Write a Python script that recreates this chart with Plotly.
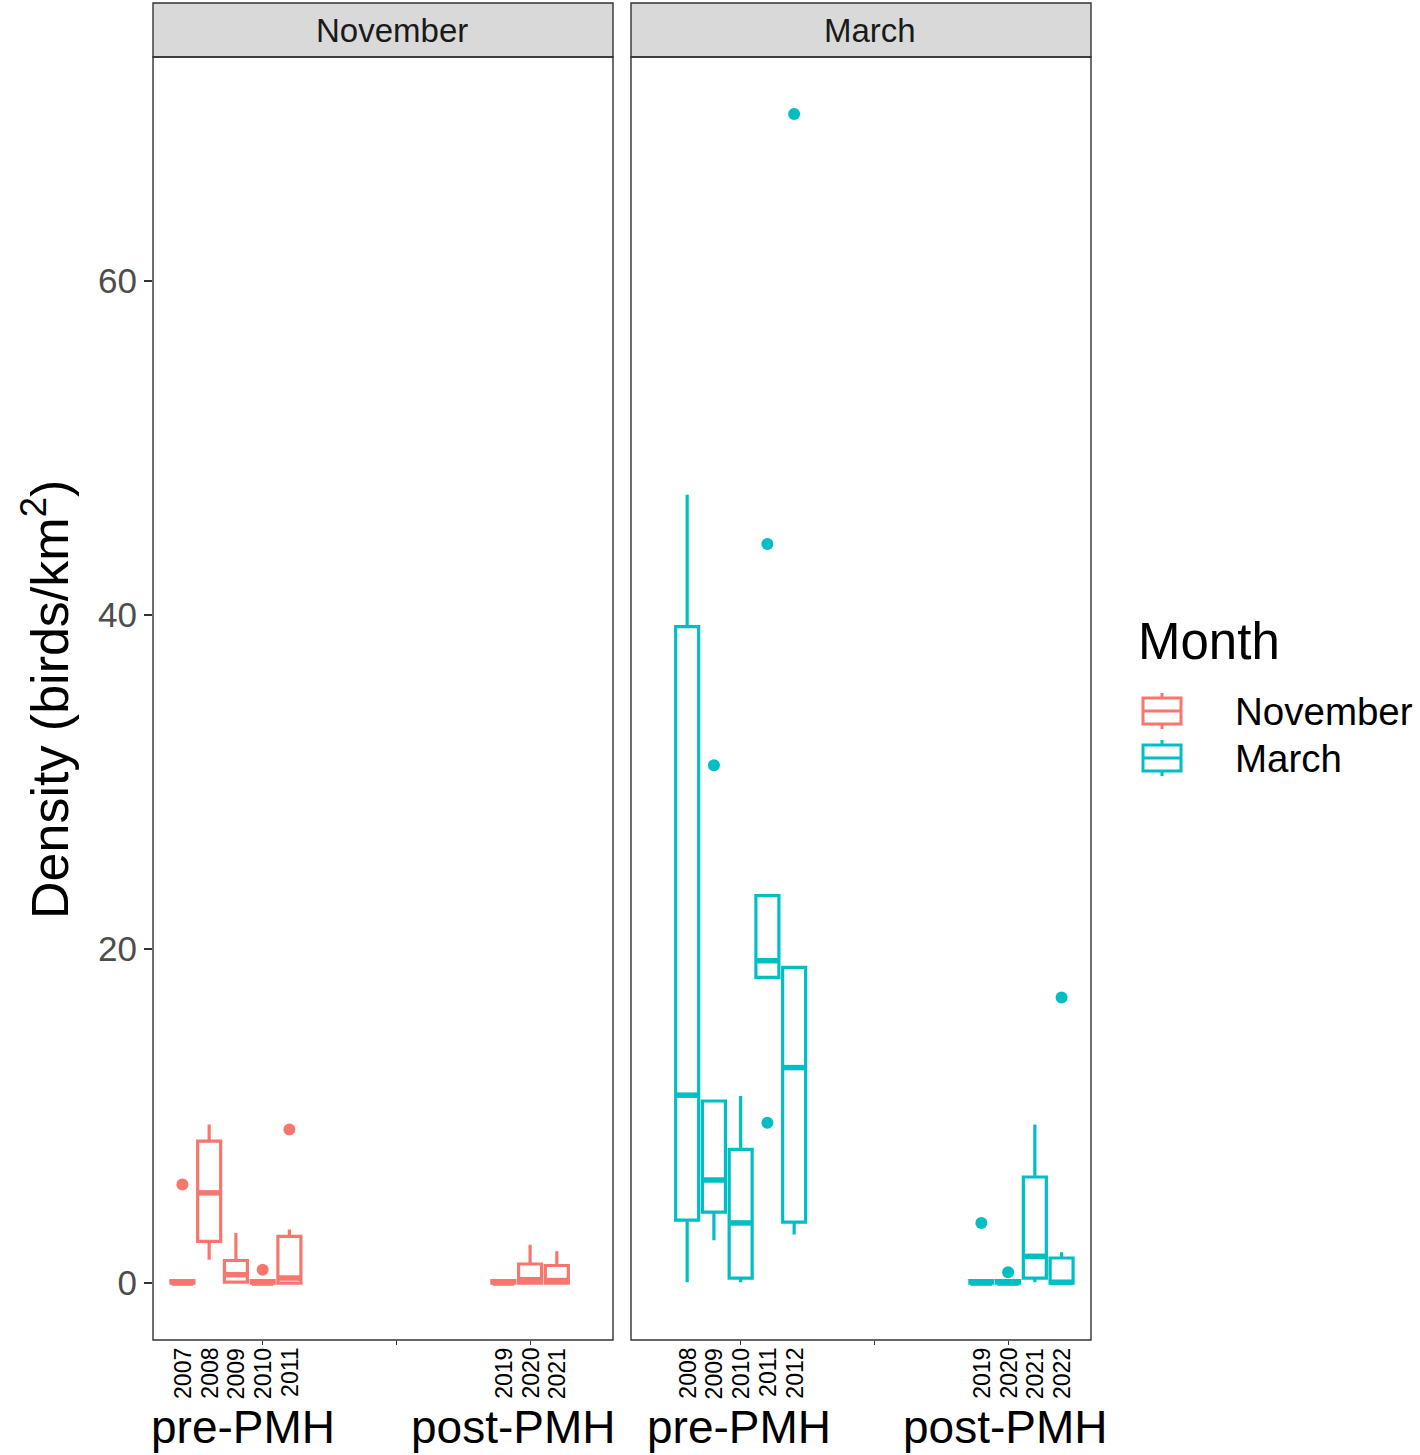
import plotly.graph_objects as go

# ---------------- data ----------------
nov_years = [2007, 2008, 2009, 2010, 2011, 2019, 2020, 2021]
nov_lower = [0.0, 1.4, 0.0, 0.0, 0.0, 0.0, 0.0, 0.0]
nov_q1 = [0.0, 2.5, 0.05, 0.0, 0.0, 0.0, 0.0, 0.0]
nov_median = [0.0, 5.4, 0.5, 0.0, 0.3, 0.0, 0.2, 0.15]
nov_q3 = [0.15, 8.5, 1.35, 0.15, 2.8, 0.15, 1.14, 1.05]
nov_upper = [0.15, 9.5, 3.0, 0.15, 3.2, 0.15, 2.3, 1.9]
nov_out_x = [2007, 2010, 2011]
nov_out_y = [5.9, 0.8, 9.2]

mar_years = [2008, 2009, 2010, 2011, 2012, 2019, 2020, 2021, 2022]
mar_lower = [0.05, 2.57, 0.05, 18.3, 2.9, 0.0, 0.0, 0.05, 0.0]
mar_q1 = [3.77, 4.25, 0.3, 18.3, 3.65, 0.0, 0.0, 0.3, 0.0]
mar_median = [11.25, 6.17, 3.6, 19.3, 12.9, 0.0, 0.0, 1.6, 0.05]
mar_q3 = [39.3, 10.9, 8.0, 23.2, 18.9, 0.15, 0.15, 6.35, 1.5]
mar_upper = [47.2, 10.9, 11.2, 23.2, 18.9, 0.15, 0.15, 9.5, 1.85]
mar_out_x = [2009, 2011, 2011, 2012, 2019, 2020, 2022]
mar_out_y = [31.0, 44.25, 9.6, 70.0, 3.6, 0.65, 17.1]

months = ["November", "March"]
colors = ["#F8766D", "#00BFC4"]
y_ticks = [0, 20, 40, 60]
period_labels = ["pre-PMH", "post-PMH"]
y_title = "Density (birds/km<sup>2</sup>)"

# ---------------- layout helpers ----------------
W, H = 1420, 1455
FONT = "Liberation Sans, Arial, Helvetica, sans-serif"
BOX_W = 0.86


def px(x):
    return x / W


def py(y):
    return 1 - y / H


fig = go.Figure()

panels = [
    (nov_years, nov_lower, nov_q1, nov_median, nov_q3, nov_upper, nov_out_x, nov_out_y, "x", "y"),
    (mar_years, mar_lower, mar_q1, mar_median, mar_q3, mar_upper, mar_out_x, mar_out_y, "x2", "y2"),
]

for i, (yrs, lo, q1, med, q3, up, ox, oy, xa, ya) in enumerate(panels):
    fig.add_trace(go.Box(
        x=yrs, lowerfence=lo, q1=q1, median=med, q3=q3, upperfence=up,
        width=BOX_W, whiskerwidth=0,
        line=dict(color=colors[i], width=3.2),
        fillcolor="rgba(0,0,0,0)", boxpoints=False,
        name=months[i], showlegend=False, xaxis=xa, yaxis=ya, hoverinfo="skip",
    ))
    # thicker median bars (as in ggplot2)
    mx, my = [], []
    for yr, m in zip(yrs, med):
        mx += [yr - BOX_W / 2 + 0.03, yr + BOX_W / 2 - 0.03, None]
        my += [m, m, None]
    fig.add_trace(go.Scatter(
        x=mx, y=my, mode="lines", line=dict(color=colors[i], width=5.5),
        showlegend=False, xaxis=xa, yaxis=ya, hoverinfo="skip",
    ))
    fig.add_trace(go.Scatter(
        x=ox, y=oy, mode="markers",
        marker=dict(color=colors[i], size=12),
        showlegend=False, xaxis=xa, yaxis=ya,
    ))

x_range = [2005.9, 2023.1]
y_range = [-3.41, 73.41]
xdom1 = [px(153), px(613)]
xdom2 = [px(631), px(1091)]
ydom = [py(1340), py(57)]

axis_x = dict(range=x_range, showgrid=False, zeroline=False, showticklabels=False,
              ticks="outside", tickvals=[2010, 2015, 2020], ticklen=4,
              tickcolor="#333333", tickwidth=1, showline=False)

fig.update_layout(
    width=W, height=H,
    margin=dict(l=0, r=0, t=0, b=0),
    paper_bgcolor="white", plot_bgcolor="white",
    font=dict(family=FONT, color="black"),
    xaxis=dict(domain=xdom1, anchor="y", **axis_x),
    xaxis2=dict(domain=xdom2, anchor="y2", **axis_x),
    yaxis=dict(domain=ydom, anchor="x", range=y_range, showgrid=False, zeroline=False,
               tickvals=y_ticks, ticks="outside", ticklen=8, tickwidth=1.5,
               tickcolor="#333333", tickfont=dict(size=35, color="#4D4D4D", family=FONT),
               showline=False),
    yaxis2=dict(domain=ydom, anchor="x2", range=y_range, showgrid=False, zeroline=False,
                showticklabels=False, ticks="", showline=False, matches="y"),
    showlegend=False,
)

shapes = []
annotations = []

# panel borders and strips
for xa, month in [("x", months[0]), ("x2", months[1])]:
    shapes.append(dict(type="rect", xref=f"{xa} domain", yref="paper",
                       x0=0, x1=1, y0=py(1340), y1=py(57),
                       line=dict(color="#333333", width=1.4), fillcolor="rgba(0,0,0,0)", layer="above"))
    shapes.append(dict(type="rect", xref=f"{xa} domain", yref="paper",
                       x0=0, x1=1, y0=py(57), y1=py(3),
                       line=dict(color="#333333", width=1.4), fillcolor="#D9D9D9", layer="below"))
    annotations.append(dict(text=month, xref=f"{xa} domain", yref="paper", x=0.5 + 9 / 460, y=py(30),
                            xanchor="center", yanchor="middle", showarrow=False,
                            font=dict(size=33, color="#1A1A1A", family=FONT)))

# year labels under each panel
for xa, yrs in [("x", nov_years), ("x2", mar_years)]:
    for yr in yrs:
        annotations.append(dict(text=str(yr), xref=xa, yref="paper", x=yr, y=py(1346),
                                xanchor="center", yanchor="top", textangle=-90, showarrow=False,
                                font=dict(size=23, color="black", family=FONT)))

# period labels
period_pos = [("x", 2009.25, 2019.35), ("x2", 2009.93, 2019.9)]
for xa, pre_x, post_x in period_pos:
    for lab, xv in zip(period_labels, [pre_x, post_x]):
        annotations.append(dict(text=lab, xref=xa, yref="paper", x=xv, y=py(1427),
                                xanchor="center", yanchor="middle", showarrow=False,
                                font=dict(size=46, color="black", family=FONT)))

# y-axis title
annotations.append(dict(text=y_title, xref="paper", yref="paper", x=px(46), y=py(700),
                        xanchor="center", yanchor="middle", textangle=-90, showarrow=False,
                        font=dict(size=52, color="black", family=FONT)))

# manual legend
annotations.append(dict(text="Month", xref="paper", yref="paper", x=px(1136), y=py(641),
                        xanchor="left", yanchor="middle", showarrow=False,
                        font=dict(size=51, color="black", family=FONT)))
leg_items = [(months[0], colors[0], 711), (months[1], colors[1], 758)]
for name, col, cy in leg_items:
    shapes.append(dict(type="rect", xref="paper", yref="paper",
                       x0=px(1143), x1=px(1181), y0=py(cy + 13), y1=py(cy - 13),
                       line=dict(color=col, width=3), fillcolor="white"))
    shapes.append(dict(type="line", xref="paper", yref="paper",
                       x0=px(1143), x1=px(1181), y0=py(cy), y1=py(cy),
                       line=dict(color=col, width=3)))
    shapes.append(dict(type="line", xref="paper", yref="paper",
                       x0=px(1162), x1=px(1162), y0=py(cy - 18), y1=py(cy - 13),
                       line=dict(color=col, width=3)))
    shapes.append(dict(type="line", xref="paper", yref="paper",
                       x0=px(1162), x1=px(1162), y0=py(cy + 13), y1=py(cy + 18),
                       line=dict(color=col, width=3)))
    annotations.append(dict(text=name, xref="paper", yref="paper", x=px(1233), y=py(cy),
                            xanchor="left", yanchor="middle", showarrow=False,
                            font=dict(size=38.5, color="black", family=FONT)))

fig.update_layout(shapes=shapes, annotations=annotations)

fig.write_html("out.html",
               config={"displayModeBar": False},
               post_script="document.body.style.margin='0px';document.body.style.overflow='hidden';")
